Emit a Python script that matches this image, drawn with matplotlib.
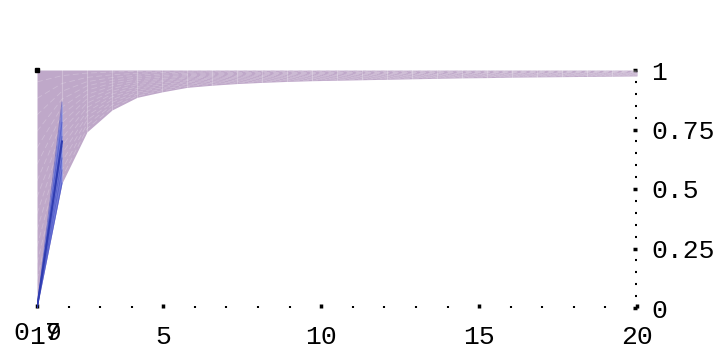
import numpy as np
import matplotlib.pyplot as plt

# sample points and the lower edge of the band
xs = np.linspace(1, 20, 25)
lower = [0.0, 0.525, 0.74, 0.832, 0.885, 0.908, 0.927, 0.936, 0.943, 0.948, 0.952,
         0.955, 0.957, 0.959, 0.961, 0.963, 0.965, 0.967, 0.968, 0.97, 0.971,
         0.972, 0.973, 0.974, 0.975]
upper = [1.0] * 25

# blue runs, only first step visible
blue_end = [0.525, 0.58, 0.63, 0.68, 0.70, 0.72, 0.78, 0.865]

xlabels = ["5", "10", "15", "20"]
ylabels = ["0", "0.25", "0.5", "0.75", "1"]

pink = "#bfa8c9"
blue = "#5c6ede"
mono = "Liberation Mono"

fig = plt.figure(figsize=(7.19, 3.52), dpi=100)
ax = fig.add_axes([37 / 719, 44 / 352, 600 / 719, 238 / 352])
ax.set_xlim(1, 20)
ax.set_ylim(0, 1)

lo = np.array(lower)
ax.fill_between(xs, lo, upper, color=pink, lw=0, zorder=1)

# light seams inside the band
for f in np.linspace(0.05, 0.95, 14):
    ax.plot(xs, lo + f * (1 - lo), color="white", lw=0.6, alpha=0.22,
            ls=(0, (7, 4)), zorder=2)
for xv in xs[1:-1]:
    ax.axvline(xv, ymin=0.5, color="white", lw=0.8, alpha=0.25, zorder=2)

# blue fan on the first step
ax.fill_between(xs[:2], [0, min(blue_end)], [0, max(blue_end)],
                color=blue, alpha=0.75, lw=0, zorder=3)
for v in blue_end:
    ax.plot(xs[:2], [0, v], color="#3a48c0", lw=0.7, alpha=0.5, zorder=4)
ax.plot(xs[:2], [0, 0.70], color="#2f3cb0", lw=1.4, zorder=4)

for s in ax.spines.values():
    s.set_visible(False)

ax.yaxis.tick_right()
ax.set_xticks([1, 5, 10, 15, 20])
ax.set_xticklabels(["1"] + xlabels, fontfamily=mono, fontsize=19)
ax.set_xticks(range(2, 20), minor=True)
ax.set_yticks([0, 0.25, 0.5, 0.75, 1])
ax.set_yticklabels(ylabels, fontfamily=mono, fontsize=19)
ax.set_yticks(np.arange(0.05, 1, 0.05), minor=True)
ax.tick_params(axis="x", which="major", direction="in", length=3, width=2.5, pad=12)
ax.tick_params(axis="x", which="minor", direction="in", length=1.5, width=1.5)
ax.tick_params(axis="y", which="major", direction="in", length=3, width=2.5, pad=10)
ax.tick_params(axis="y", which="minor", direction="in", length=1.5, width=1.5)

# overlapping labels near the origin
for xv, t in [(0.5, "0"), (1.5, "9"), (1.5, "7")]:
    ax.text(xv, -0.055, t, fontfamily=mono, fontsize=19, ha="center", va="top",
            clip_on=False)
ax.plot([1], [1], marker="s", color="black", ms=2.5, clip_on=False, zorder=5)

fig.savefig("out.png", dpi=100)
